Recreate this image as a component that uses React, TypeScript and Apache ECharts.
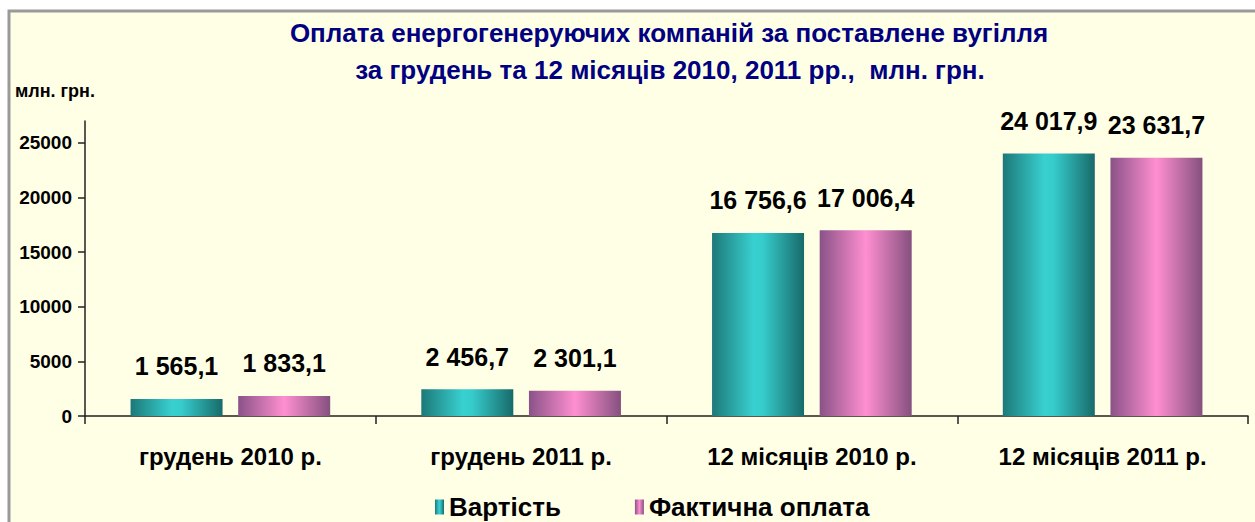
import React, { useEffect, useRef } from "react";
import * as echarts from "echarts";

const categories = ["грудень 2010 р.", "грудень 2011 р.", "12 місяців 2010 р.", "12 місяців 2011 р."];
const seriesNames = ["Вартість", "Фактична оплата"];
const costValues = [1565.1, 2456.7, 16756.6, 24017.9];
const paidValues = [1833.1, 2301.1, 17006.4, 23631.7];
const yTicks = [0, 5000, 10000, 15000, 20000, 25000];
const titleLines = [
  "Оплата енергогенеруючих компаній за поставлене вугілля",
  "за грудень та 12 місяців 2010, 2011 рр.,  млн. грн.",
];
const unitLabel = "млн. грн.";

const FONT = "'Liberation Sans', Arial, sans-serif";

function fmt(v: number): string {
  const s = v.toFixed(1);
  const [i, d] = s.split(".");
  const withSpaces = i.replace(/\B(?=(\d{3})+(?!\d))/g, " ");
  return withSpaces + "," + d;
}

const tealGrad = new echarts.graphic.LinearGradient(0, 0, 1, 0, [
  { offset: 0, color: "#1d7878" },
  { offset: 0.45, color: "#38d0d0" },
  { offset: 0.55, color: "#36cccc" },
  { offset: 1, color: "#186a6a" },
]);
const pinkGrad = new echarts.graphic.LinearGradient(0, 0, 1, 0, [
  { offset: 0, color: "#8a5288" },
  { offset: 0.5, color: "#ff8fd0" },
  { offset: 1, color: "#85507f" },
]);

export default function App() {
  const ref = useRef<HTMLDivElement>(null);
  useEffect(() => {
    document.body.style.margin = "0";
    const chart = echarts.init(ref.current!, undefined, { renderer: "svg" });
    const labelStyle = {
      show: true,
      position: "top" as const,
      distance: 20,
      formatter: (p: any) => fmt(p.value),
      fontFamily: FONT,
      fontWeight: "bold" as const,
      fontSize: 25,
      color: "#000",
    };
    chart.setOption({
      animation: false,
      backgroundColor: "#ffffff",
      graphic: [
        {
          type: "rect",
          z: -10,
          silent: true,
          shape: { x: 9, y: 11, width: 1300, height: 600 },
          style: { fill: "#ffffe6", stroke: "#9a9a9a", lineWidth: 3 },
        },
        {
          type: "text",
          x: 669,
          y: 33,
          style: {
            text: titleLines[0],
            fontFamily: FONT,
            fontWeight: "bold",
            fontSize: 26,
            fill: "#000080",
            textAlign: "center",
            textVerticalAlign: "middle",
          },
        },
        {
          type: "text",
          x: 670,
          y: 70,
          style: {
            text: titleLines[1],
            fontFamily: FONT,
            fontWeight: "bold",
            fontSize: 26,
            fill: "#000080",
            textAlign: "center",
            textVerticalAlign: "middle",
          },
        },
        {
          type: "text",
          x: 15,
          y: 91,
          style: {
            text: unitLabel,
            fontFamily: FONT,
            fontWeight: "bold",
            fontSize: 18,
            fill: "#000",
            textAlign: "left",
            textVerticalAlign: "middle",
          },
        },
      ],
      legend: {
        left: 430,
        top: 489,
        icon: "rect",
        itemWidth: 9,
        itemHeight: 15,
        itemGap: 74,
        textStyle: { fontFamily: FONT, fontWeight: "bold", fontSize: 26, color: "#000" },
        data: seriesNames,
      },
      grid: { left: 85, right: 7, top: 121, bottom: 106, containLabel: false },
      xAxis: {
        type: "category",
        data: categories,
        axisLine: { lineStyle: { color: "#222", width: 1.5 } },
        axisTick: { show: true, length: 8, lineStyle: { color: "#222", width: 1.5 } },
        axisLabel: {
          margin: 28,
          fontFamily: FONT,
          fontWeight: "bold",
          fontSize: 24,
          color: "#000",
        },
      },
      yAxis: {
        type: "value",
        min: 0,
        max: 27000,
        interval: 5000,
        splitLine: { show: false },
        axisLine: { show: true, lineStyle: { color: "#222", width: 1.5 } },
        axisTick: { show: true, length: 7, customValues: yTicks, lineStyle: { color: "#222", width: 1.5 } },
        axisLabel: {
          customValues: yTicks,
          formatter: (v: number) => String(v),
          margin: 13,
          fontFamily: FONT,
          fontWeight: "bold",
          fontSize: 19,
          color: "#000",
        },
      },
      series: [
        {
          name: seriesNames[0],
          type: "bar",
          data: costValues,
          barWidth: 92,
          barGap: "17%",
          itemStyle: { color: tealGrad },
          label: labelStyle,
        },
        {
          name: seriesNames[1],
          type: "bar",
          data: paidValues,
          barWidth: 92,
          barGap: "17%",
          itemStyle: { color: pinkGrad },
          label: labelStyle,
        },
      ],
    });
    return () => chart.dispose();
  }, []);
  return <div ref={ref} style={{ width: 1255, height: 522 }} />;
}
